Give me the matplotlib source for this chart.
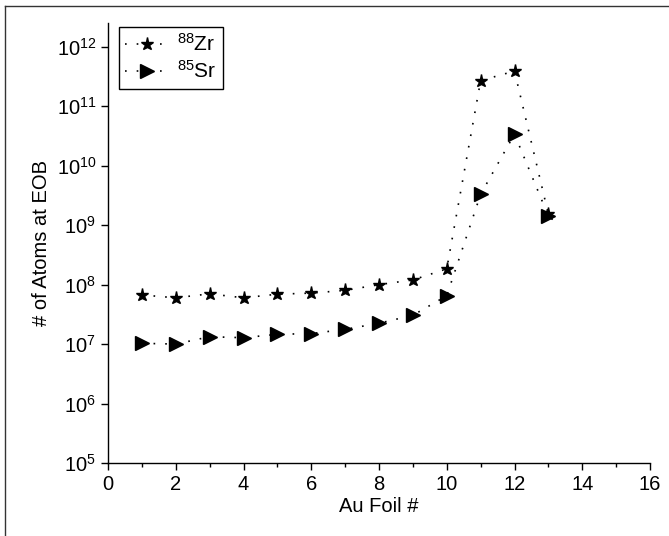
import numpy as np
import matplotlib
matplotlib.use("Agg")
import matplotlib.pyplot as plt
from matplotlib.lines import Line2D
from matplotlib.ticker import MultipleLocator, NullLocator

plt.rcParams["font.family"] = ["Liberation Sans", "DejaVu Sans"]
plt.rcParams["mathtext.fontset"] = "custom"
plt.rcParams["mathtext.rm"] = "Liberation Sans"
plt.rcParams["mathtext.it"] = "Liberation Sans"
plt.rcParams["mathtext.default"] = "regular"

foil = [1, 2, 3, 4, 5, 6, 7, 8, 9, 10, 11, 12, 13]
zr88 = [6.7e7, 6.0e7, 7.0e7, 6.0e7, 6.9e7, 7.2e7, 8.0e7, 1.0e8, 1.2e8,
        1.84e8, 2.7e11, 3.9e11, 1.53e9]
sr85 = [1.03e7, 1.0e7, 1.33e7, 1.28e7, 1.46e7, 1.5e7, 1.77e7, 2.24e7, 3.05e7,
        6.5e7, 3.3e9, 3.4e10, 1.42e9]

fig = plt.figure(figsize=(6.69, 5.36), dpi=100)
ax = fig.add_axes([108 / 669, 73 / 536, 542 / 669, 440 / 536])

dots = (0, (1, 6))
ax.plot(foil, zr88, color="black", linestyle=dots, linewidth=1.2,
        marker="*", markersize=9.5, label=r"$^{88}$Zr")
ax.plot(foil, sr85, color="black", linestyle=dots, linewidth=1.2,
        marker=">", markersize=10, label=r"$^{85}$Sr")

ax.set_yscale("log")
ax.set_xlim(0, 16)
ax.set_ylim(1e5, 10 ** 12.4)
ax.xaxis.set_major_locator(MultipleLocator(2))
ax.xaxis.set_minor_locator(MultipleLocator(1))
ax.yaxis.set_minor_locator(NullLocator())

for side in ("top", "right"):
    ax.spines[side].set_visible(False)
for side in ("left", "bottom"):
    ax.spines[side].set_linewidth(1.0)

ax.tick_params(which="major", direction="out", length=5, width=1.0,
               labelsize=14.5)
ax.tick_params(which="minor", direction="out", length=3, width=1.0)

ax.set_xlabel("Au Foil #", fontsize=14.5, labelpad=2)
ax.set_ylabel("# of Atoms at EOB", fontsize=14.5, labelpad=4)

leg = ax.legend(loc="upper left", bbox_to_anchor=(11 / 542, 436 / 440),
                borderaxespad=0, fontsize=15, frameon=True, fancybox=False,
                framealpha=1, edgecolor="black", handlelength=2.1,
                handletextpad=0.4, borderpad=0.3, labelspacing=0.25)
leg.get_frame().set_linewidth(1.0)

# thin frame around the whole figure
fig.add_artist(Line2D([5 / 669, 5 / 669], [0, 1 - 6 / 536], color="#333333",
                      linewidth=1.0, transform=fig.transFigure))
fig.add_artist(Line2D([5 / 669, 1], [1 - 6 / 536, 1 - 6 / 536], color="#333333",
                      linewidth=1.0, transform=fig.transFigure))

fig.savefig("out.png", dpi=100)
